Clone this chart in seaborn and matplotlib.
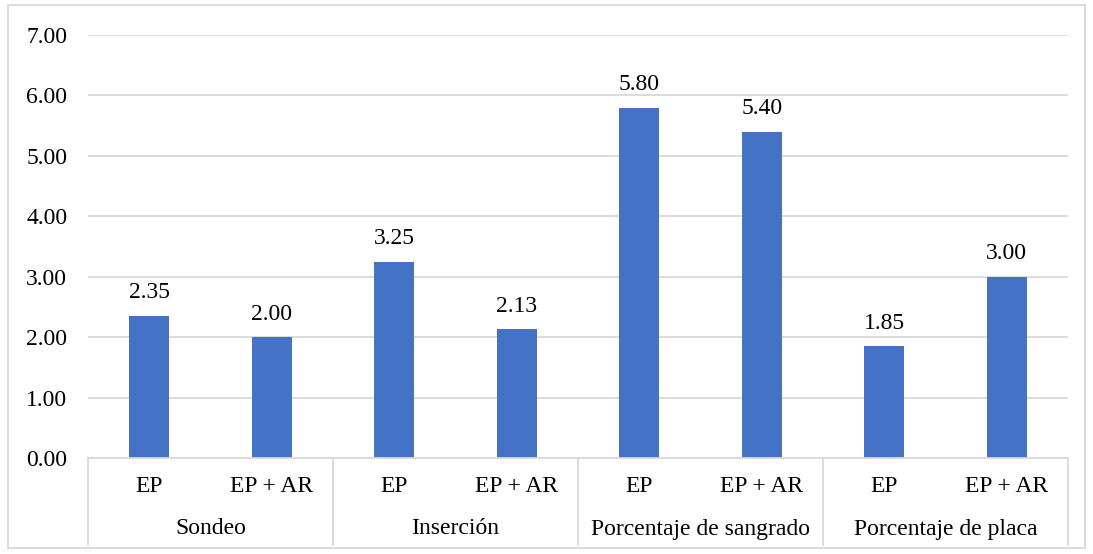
import matplotlib
matplotlib.use("Agg")
import matplotlib.pyplot as plt
from matplotlib.patches import Rectangle
import seaborn as sns
import pandas as pd

# Chart data
groups = ["Sondeo", "Inserción", "Porcentaje de sangrado", "Porcentaje de placa"]
treatments = ["EP", "EP + AR"]
values = [2.35, 2.00, 3.25, 2.13, 5.80, 5.40, 1.85, 3.00]
y_ticks = [0, 1, 2, 3, 4, 5, 6, 7]

rows = []
i = 0
for g in groups:
    for t in treatments:
        rows.append({"key": f"{g}|{t}", "group": g, "treatment": t, "value": values[i]})
        i += 1
df = pd.DataFrame(rows)

sns.set_theme(style="white")
plt.rcParams["font.family"] = ["Liberation Serif", "DejaVu Serif"]

W, H = 1093, 554
FS = 17
fig = plt.figure(figsize=(W / 100, H / 100), dpi=100)
ax = fig.add_axes([88 / W, (H - 458) / H, (1068 - 88) / W, (458 - 35) / H])

bar_color = "#4472C4"
grid_color = "#D9D9D9"
sns.barplot(data=df, x="key", y="value", color=bar_color, width=0.33,
            saturation=1, ax=ax, errorbar=None, linewidth=0)

ax.set_ylim(0, 7)
ax.set_xlim(-0.5, len(values) - 0.5)
ax.set_yticks(y_ticks)
ax.set_yticklabels([f"{v:.2f}" for v in y_ticks], fontsize=FS, color="#000000")
ax.yaxis.grid(True, color=grid_color, linewidth=1.3)
ax.set_axisbelow(True)
ax.tick_params(axis="y", length=0, pad=15)
ax.tick_params(axis="x", length=0, pad=13)
ax.set_xticks(range(len(values)))
ax.set_xticklabels(df["treatment"], fontsize=FS, color="#000000")
ax.set_xlabel("")
ax.set_ylabel("")
for side in ["top", "right", "left"]:
    ax.spines[side].set_visible(False)
ax.spines["bottom"].set_color(grid_color)
ax.spines["bottom"].set_linewidth(1.3)

# Value labels above each bar
for idx, v in enumerate(values):
    ax.annotate(f"{v:.2f}", xy=(idx, v), xytext=(0, 9), textcoords="offset points",
                ha="center", va="bottom", fontsize=FS, color="#000000")

# Group separators and group labels below the axis
trans = ax.get_xaxis_transform()
sep_bottom = -(545 - 458) / (458 - 35)
for k in range(len(groups) + 1):
    xb = k * 2 - 0.5
    ax.plot([xb, xb], [0, sep_bottom], transform=trans, color=grid_color,
            linewidth=1.3, clip_on=False)
label_y = -(529 - 458) / (458 - 35)
for k, g in enumerate(groups):
    ax.text(k * 2 + 0.5, label_y, g, transform=trans, ha="center", va="center",
            fontsize=FS, color="#000000")

# Outer chart border
fig.patches.append(Rectangle((8 / W, (H - 548) / H), (1085 - 8) / W, (548 - 5) / H,
                             transform=fig.transFigure, fill=False,
                             edgecolor=grid_color, linewidth=1.3))

fig.savefig("out.png", dpi=100, facecolor="white")
